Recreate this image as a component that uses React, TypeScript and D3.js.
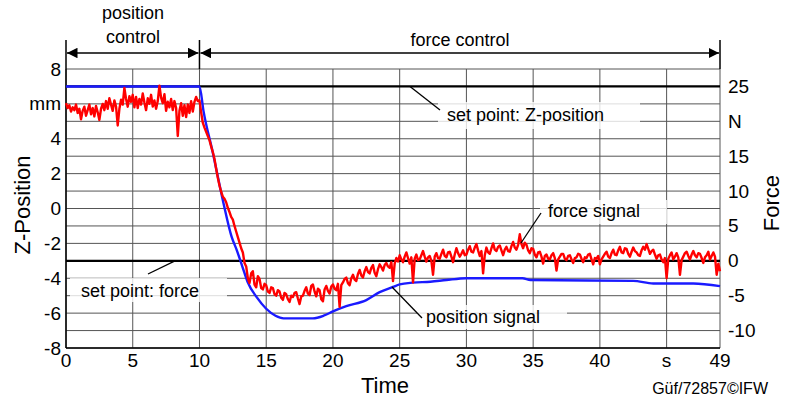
import React from "react";
import * as d3 from "d3";

// force signal, sampled every 0.125 s from 0 to 49 s (N), one row per second
const forceStep = 0.125;
const forceValues = [
  22.6, 21.9, 22.3, 21.4, 22.0, 21.6, 22.4, 21.2,
  21.8, 20.3, 21.5, 22.1, 20.8, 21.6, 22.4, 21.0,
  21.9, 20.7, 22.2, 21.3, 20.2, 21.8, 22.5, 21.6,
  22.9, 21.8, 23.3, 22.4, 21.5, 23.0, 22.1, 19.4,
  21.8, 23.1, 22.4, 24.8, 23.2, 22.1, 23.6, 22.8,
  23.8, 22.0, 23.5, 21.9, 23.2, 22.4, 24.0, 22.7,
  21.6, 23.3, 22.5, 23.8, 22.1, 23.0, 21.8, 22.9,
  25.1, 23.4, 22.6, 23.9, 21.5, 22.8, 22.0, 23.2,
  21.6, 22.9, 21.9, 17.9, 21.5, 22.6, 20.8, 22.3,
  20.6, 22.4, 21.2, 22.9, 21.4, 22.8, 23.5, 22.9,
  23.0, 21.3, 19.8, 19.1, 18.5, 17.9, 17.3, 16.4,
  15.6, 14.6, 13.2, 11.9, 10.8, 9.9, 9.2, 8.9,
  8.4, 7.6, 7.0, 6.3, 5.9, 5.0, 4.2, 3.4,
  2.6, 1.8, 1.2, -0.3, -0.8, -2.5, -3.2, -1.8,
  -1.5, -3.4, -3.8, -2.2, -2.6, -3.9, -4.1, -3.3,
  -3.5, -4.4, -4.6, -3.8, -3.9, -4.8, -5.0, -4.2,
  -4.4, -5.3, -5.6, -4.6, -4.8, -5.5, -5.9, -5.0,
  -5.2, -4.6, -4.5, -5.4, -6.2, -5.1, -5.0, -4.3,
  -3.8, -4.7, -4.9, -3.6, -3.4, -4.4, -5.1, -4.0,
  -4.2, -5.5, -5.8, -4.1, -3.6, -4.3, -4.7, -3.7,
  -3.4, -4.0, -4.2, -3.3, -6.6, -3.5, -3.1, -2.6,
  -2.4, -3.2, -3.5, -2.5, -2.0, -2.7, -2.9, -1.9,
  -1.3, -2.1, -2.4, -1.5, -0.9, -1.6, -1.8, -1.0,
  -0.6, -1.7, -2.2, -1.2, -0.5, -0.9, -1.4, -0.6,
  -0.3, -0.8, -1.0, -0.2, -2.9, -0.4, 0.4, -0.1,
  0.8, 0.2, -0.2, 0.6, 1.2, 0.4, -0.4, 0.5,
  -3.1, 0.3, 0.9, 0.1, 0.2, 0.8, 1.4, 0.6,
  -0.1, 0.5, 0.7, 0.0, -2.0, 0.6, 1.1, 0.4,
  0.3, 1.0, 1.6, 0.7, 0.5, 1.2, 1.3, 0.6,
  -0.2, 0.9, 1.8, 1.1, 0.6, 1.0, 1.5, 0.8,
  0.9, 1.6, 2.1, 1.3, 1.2, 1.9, 2.4, 1.5,
  0.7, 1.4, -1.8, 0.8, 1.9, 1.2, 1.0, 1.8,
  2.5, 1.6, 1.4, 2.0, 2.2, 1.5, 0.8, 1.6,
  2.0, 1.4, 1.3, 2.1, 2.7, 1.9, 1.6, 2.3,
  3.8, 2.4, 1.8, 2.6, 2.3, 1.5, 1.1, 1.8,
  1.7, 0.9, 0.5, 1.2, 1.3, 0.6, -0.4, 0.7,
  0.9, 0.3, 0.2, 0.8, 1.1, 0.4, -1.4, 0.2,
  0.6, 1.0, 1.0, 0.3, 0.1, 0.7, 0.8, 0.2,
  -0.3, 0.4, 0.5, 1.0, 0.9, 0.3, -0.2, 0.5,
  0.4, 0.9, 1.0, 0.2, -0.5, 0.4, 0.3, 0.7,
  -0.5, 0.2, 0.6, 1.0, 1.3, 0.6, 0.4, 1.1,
  1.6, 0.9, 0.8, 1.5, 2.0, 1.2, 1.1, 1.8,
  1.7, 1.0, 0.6, 1.3, 1.9, 1.4, 1.2, 0.8,
  0.7, 1.5, 2.0, 1.6, 2.4, 1.7, 1.0, 1.4,
  1.6, 0.9, 0.3, 0.8, 0.9, 0.2, -0.2, 0.4,
  -2.5, 0.3, 0.8, 1.2, 0.2, 0.6, 1.1, 0.5,
  -2.0, 0.1, 0.6, 1.1, 1.3, 0.7, 0.2, 0.9,
  1.4, 0.8, 0.5, 1.1, 1.0, 0.4, -0.3, 0.5,
  0.8, 1.3, 0.2, 0.7, 1.2, 0.6, -2.0, -0.4,
  -1.5,
];

// position signal (mm)
const posTime = [0, 10, 10.3, 11, 11.8, 12.4, 12.8, 13.2, 13.6, 14.3, 15, 15.7, 16.3, 18.5, 19.3, 20, 21, 22.5, 23.5, 24.5, 25, 26, 27.3, 28.5, 30, 34.2, 34.8, 42.5, 44, 47, 49];
const posValue = [7, 7, 5.6, 3.2, 0.3, -1.6, -2.4, -3.3, -4.2, -5.1, -5.75, -6.15, -6.3, -6.3, -6.15, -5.9, -5.6, -5.25, -4.8, -4.5, -4.35, -4.25, -4.2, -4.1, -4.0, -4.0, -4.1, -4.15, -4.3, -4.3, -4.45];

const setPointPosition = 7; // mm
const setPointForce = 0; // N

const timeTicks = [0, 5, 10, 15, 20, 25, 30, 35, 40, 45, 49];
const timeLabels = ["0", "5", "10", "15", "20", "25", "30", "35", "40", "s", "49"];
const zTicks = [8, 6, 4, 2, 0, -2, -4, -6, -8];
const zLabels = ["8", "mm", "4", "2", "0", "-2", "-4", "-6", "-8"];
const forceTicks = [25, 20, 15, 10, 5, 0, -5, -10];
const forceLabels = ["25", "N", "15", "10", "5", "0", "-5", "-10"];

const W = 786;
const H = 399;
const left = 66, right = 720, top = 69, bottom = 348;
const font = "'Liberation Sans', Arial, sans-serif";

const x = d3.scaleLinear().domain([0, 49]).range([left, right]);
const yZ = d3.scaleLinear().domain([-8, 8]).range([bottom, top]);
// 25 N sits at 7 mm, 0 N at -3 mm
const yF = d3.scaleLinear().domain([0, 25]).range([yZ(-3), yZ(7)]);

const App = () => {
  const forceLine = d3.line<number>()
    .x((d, i) => x(i * forceStep))
    .y((d) => yF(d));
  const posLine = d3.line<number>()
    .x((d, i) => x(posTime[i]))
    .y((d) => yZ(d))
    .curve(d3.curveMonotoneX);

  const hGrid = d3.range(-8, 9, 1);
  const vGrid = [0, 5, 10, 15, 20, 25, 30, 35, 40, 45, 49];

  const label = (tx: number, ty: number, bx: number, by: number, bw: number, bh: number, text: string, lx1: number, ly1: number, lx2: number, ly2: number) => (
    <g>
      <rect x={bx} y={by} width={bw} height={bh} fill="#fff" fillOpacity={0.8} />
      <line x1={lx1} y1={ly1} x2={lx2} y2={ly2} stroke="#000" strokeWidth={1.3} />
      <text x={tx} y={ty} fontSize={18} dominantBaseline="central">{text}</text>
    </g>
  );

  return (
    <svg width={W} height={H} style={{ position: "absolute", left: 0, top: 0, background: "#fff" }} fontFamily={font}>
      <defs>
        <marker id="arr" viewBox="0 0 10 10" refX={10} refY={5} markerWidth={7} markerHeight={7} orient="auto-start-reverse">
          <path d="M0,0 L10,5 L0,10 z" fill="#000" />
        </marker>
      </defs>

      {/* grid */}
      {hGrid.map((v) => (
        <line key={"h" + v} x1={left} x2={right} y1={yZ(v)} y2={yZ(v)} stroke="#555" strokeWidth={1} />
      ))}
      {vGrid.map((v) => (
        <line key={"v" + v} x1={x(v)} x2={x(v)} y1={top} y2={bottom} stroke="#555" strokeWidth={1} />
      ))}
      <line x1={left} x2={left} y1={top} y2={bottom} stroke="#000" strokeWidth={1.5} />
      <line x1={left} x2={right} y1={bottom} y2={bottom} stroke="#000" strokeWidth={1.5} />

      {/* set points */}
      <line x1={left} x2={right} y1={yZ(setPointPosition)} y2={yZ(setPointPosition)} stroke="#000" strokeWidth={2.2} />
      <line x1={left} x2={right} y1={yF(setPointForce)} y2={yF(setPointForce)} stroke="#000" strokeWidth={2.2} />

      {/* signals */}
      <path d={posLine(posValue) || ""} fill="none" stroke="#1a1aff" strokeWidth={2.4} />
      <path d={forceLine(forceValues) || ""} fill="none" stroke="#ff0000" strokeWidth={2.4} strokeLinejoin="round" />

      {/* annotations */}
      {label(447, 115, 438, 102, 202, 27, "set point: Z-position", 410, yZ(7), 440, 110)}
      {label(81, 291, 70, 278, 157, 24, "set point: force", 148, 274, 175, yF(0))}
      {label(548, 211, 540, 200, 127, 24, "force signal", 521, 243, 541, 213)}
      {label(426, 317, 417, 305, 150, 24, "position signal", 392, 287, 422, 318)}

      {/* control phase arrows */}
      {[left, x(10), right].map((v) => (
        <line key={"b" + v} x1={v} x2={v} y1={40} y2={top} stroke="#000" strokeWidth={1.5} />
      ))}
      <line x1={left + 1} x2={x(10) - 1} y1={53} y2={53} stroke="#000" strokeWidth={1.5} markerStart="url(#arr)" markerEnd="url(#arr)" />
      <line x1={x(10) + 1} x2={right - 1} y1={53} y2={53} stroke="#000" strokeWidth={1.5} markerStart="url(#arr)" markerEnd="url(#arr)" />
      <text x={133} y={13} fontSize={18} textAnchor="middle" dominantBaseline="central">position</text>
      <text x={133} y={37} fontSize={18} textAnchor="middle" dominantBaseline="central">control</text>
      <text x={460} y={40} fontSize={18} textAnchor="middle" dominantBaseline="central">force control</text>

      {/* left axis */}
      {zTicks.map((v, i) => (
        <text key={"z" + v} x={61} y={yZ(v)} fontSize={19} textAnchor="end" dominantBaseline="central">{zLabels[i]}</text>
      ))}
      {/* right axis */}
      {forceTicks.map((v, i) => (
        <text key={"f" + v} x={728} y={yF(v)} fontSize={19} dominantBaseline="central">{forceLabels[i]}</text>
      ))}
      {/* bottom axis */}
      {timeTicks.map((v, i) => (
        <text key={"t" + v} x={x(v)} y={360} fontSize={19} textAnchor="middle" dominantBaseline="central">{timeLabels[i]}</text>
      ))}

      <text x={385} y={385} fontSize={22} textAnchor="middle" dominantBaseline="central">Time</text>
      <text transform={`translate(22,205) rotate(-90)`} fontSize={22} textAnchor="middle" dominantBaseline="central">Z-Position</text>
      <text transform={`translate(771,203) rotate(-90)`} fontSize={22} textAnchor="middle" dominantBaseline="central">Force</text>
      <text x={768} y={388} fontSize={16} textAnchor="end" dominantBaseline="central">Güf/72857©IFW</text>
    </svg>
  );
};

export default App;
